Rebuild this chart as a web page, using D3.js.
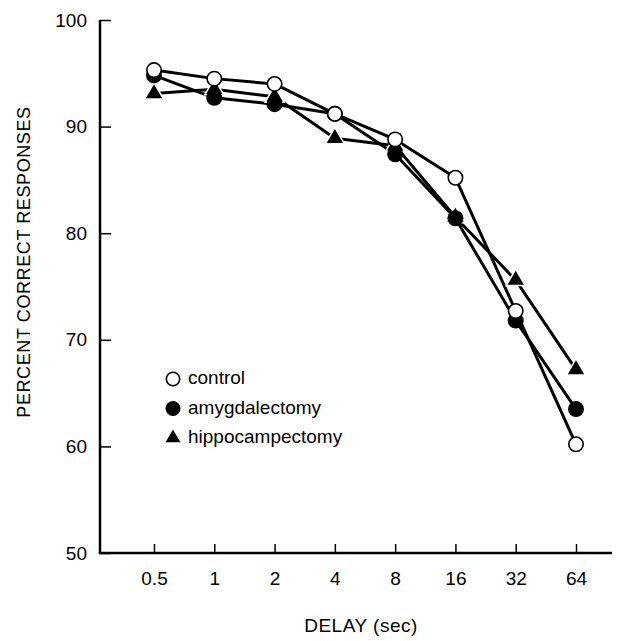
<!DOCTYPE html>
<html><head><meta charset="utf-8">
<script src="https://cdn.jsdelivr.net/npm/d3@7"></script>
<style>
body{margin:0;background:#fff}
text{font-family:"Liberation Sans",Arial,Helvetica,sans-serif;fill:#000}
</style>
</head><body>
<svg id="chart" width="634" height="641"></svg>
<script>
// ---- data ----
const delays = ["0.5", "1", "2", "4", "8", "16", "32", "64"];
const control = [95.3, 94.5, 94.0, 91.2, 88.8, 85.2, 72.7, 60.2];
const amygdalectomy = [94.8, 92.7, 92.1, 91.2, 87.4, 81.4, 71.8, 63.5];
const hippocampectomy = [93.1, 93.5, 92.8, 88.9, 88.2, 81.5, 75.6, 67.2];
const seriesNames = ["control", "amygdalectomy", "hippocampectomy"];
const yTickValues = [50, 60, 70, 80, 90, 100];
const xTitle = "DELAY (sec)";
const yTitle = "PERCENT CORRECT RESPONSES";

const series = [
  {name: seriesNames[0], values: control, shape: "open"},
  {name: seriesNames[1], values: amygdalectomy, shape: "filled"},
  {name: seriesNames[2], values: hippocampectomy, shape: "triangle"}
];

const svg = d3.select("#chart");
const axisX0 = 100, axisX1 = 612, axisYTop = 20, axisYBot = 553;

const x = d3.scalePoint().domain(delays).range([154, 576]);
const y = d3.scaleLinear().domain([50, 100]).range([axisYBot, axisYTop]);

// axes
const yAxis = svg.append("g").attr("transform", `translate(${axisX0},0)`)
  .call(d3.axisLeft(y).tickValues(yTickValues).tickSize(-11).tickPadding(13).tickSizeOuter(0));
yAxis.select(".domain").remove();
yAxis.selectAll(".tick line").attr("stroke", "#000").attr("stroke-width", 1.5);
yAxis.selectAll(".tick text").attr("font-size", 19).attr("font-family", "Liberation Sans, Arial, sans-serif");

const xAxis = svg.append("g").attr("transform", `translate(0,${axisYBot})`)
  .call(d3.axisBottom(x).tickSize(-9).tickPadding(12).tickSizeOuter(0));
xAxis.select(".domain").remove();
xAxis.selectAll(".tick line").attr("stroke", "#000").attr("stroke-width", 1.5);
xAxis.selectAll(".tick text").attr("font-size", 19).attr("font-family", "Liberation Sans, Arial, sans-serif").attr("dy", "1.05em");

// axis lines
svg.append("line").attr("x1", axisX0).attr("x2", axisX0).attr("y1", axisYTop).attr("y2", axisYBot)
  .attr("stroke", "#000").attr("stroke-width", 2.5);
svg.append("line").attr("x1", axisX0 - 1.25).attr("x2", axisX1).attr("y1", axisYBot).attr("y2", axisYBot)
  .attr("stroke", "#000").attr("stroke-width", 2.5);

// titles
svg.append("text").attr("x", 361).attr("y", 627).attr("text-anchor", "middle")
  .attr("dominant-baseline", "middle").attr("font-size", 19).attr("letter-spacing", 0.5).text(xTitle);
svg.append("text").attr("transform", "translate(25,262) rotate(-90)").attr("text-anchor", "middle")
  .attr("dominant-baseline", "middle").attr("font-size", 18).attr("letter-spacing", 0.6).text(yTitle);

// lines
const line = d3.line().x((d, i) => x(delays[i])).y(d => y(d));
series.forEach(s => {
  svg.append("path").datum(s.values).attr("d", line)
    .attr("fill", "none").attr("stroke", "#000").attr("stroke-width", 3).attr("stroke-linejoin", "round");
});

const tri = d3.symbol().type(d3.symbolTriangle).size(115);
const triSmall = d3.symbol().type(d3.symbolTriangle).size(95);
function drawMarker(g, shape, cx, cy, r, small) {
  if (shape === "triangle") {
    g.append("path").attr("d", small ? triSmall() : tri()).attr("transform", `translate(${cx},${cy})`)
      .attr("fill", "#000").attr("stroke", "#fff").attr("stroke-width", 3).attr("paint-order", "stroke");
  } else if (shape === "filled") {
    g.append("circle").attr("cx", cx).attr("cy", cy).attr("r", r).attr("fill", "#000");
  } else {
    g.append("circle").attr("cx", cx).attr("cy", cy).attr("r", r - 0.8)
      .attr("fill", "#fff").attr("stroke", "#000").attr("stroke-width", 1.6);
  }
}

// markers: triangles first, then filled, then open
[series[2], series[1], series[0]].forEach(s => {
  const g = svg.append("g");
  s.values.forEach((v, i) => drawMarker(g, s.shape, x(delays[i]), y(v), 8, false));
});

// legend
const legend = svg.append("g");
series.forEach((s, i) => {
  const ly = 379 + i * 29.5;
  drawMarker(legend, s.shape, 173, ly, 7.5, true);
  legend.append("text").attr("x", 188).attr("y", ly).attr("dominant-baseline", "middle")
    .attr("font-size", 19).text(s.name);
});
</script>
</body></html>
